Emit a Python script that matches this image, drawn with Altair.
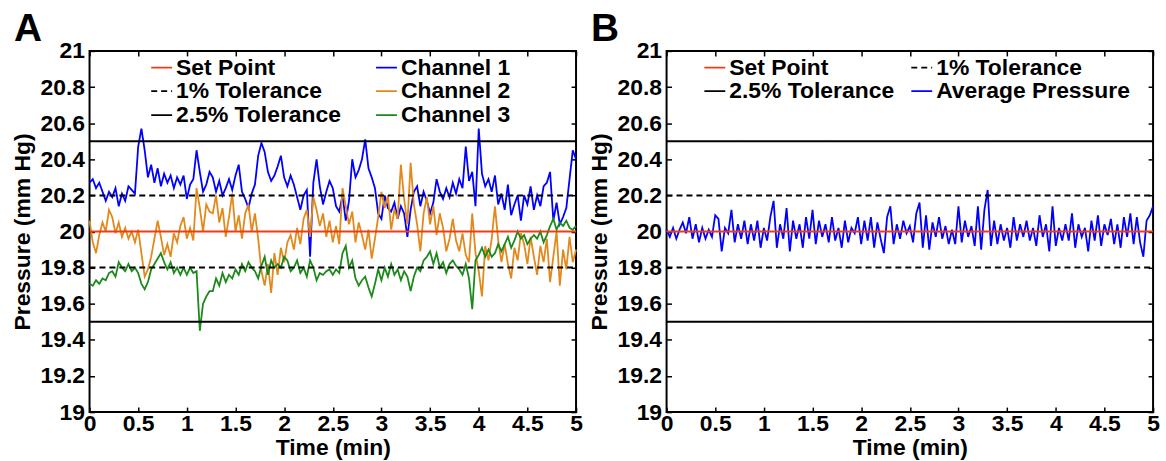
import altair as alt
import pandas as pd

FONT = "Liberation Sans"

# ---------------- data ----------------
N = 151
time = [i / 30 for i in range(N)]  # minutes, sampling grid

ch1 = [20.27, 20.29, 20.24, 20.27, 20.22, 20.17, 20.22, 20.19, 20.24, 20.14,
       20.21, 20.17, 20.25, 20.23, 20.21, 20.47, 20.57, 20.45, 20.30, 20.37,
       20.27, 20.35, 20.25, 20.32, 20.27, 20.31, 20.24, 20.30, 20.26, 20.31,
       20.18, 20.26, 20.29, 20.45, 20.33, 20.22, 20.26, 20.33,
       20.30, 20.22,
       20.28, 20.20, 20.24, 20.29, 20.23, 20.31, 20.37, 20.22, 20.18, 20.13,
       20.21, 20.26, 20.42, 20.49, 20.44, 20.33, 20.28, 20.31, 20.36, 20.42,
       20.30, 20.25, 20.31, 20.26, 20.19, 20.12, 20.20, 20.23, 19.86, 20.27,
       20.40, 20.25, 20.15, 20.22, 20.28,
       20.24, 20.14, 20.11, 20.20, 20.06,
       20.17, 20.40, 20.30, 20.34, 20.40, 20.51, 20.35, 20.30, 20.24, 20.10,
       20.07, 20.20, 20.13, 20.11, 20.16, 20.07, 20.14, 20.10, 19.97, 20.12,
       20.22, 20.25, 20.14, 20.22, 20.17, 20.10, 20.16, 20.29, 20.22, 20.18,
       20.24, 20.19, 20.27,
       20.21, 20.29, 20.24, 20.47, 20.28, 20.33, 20.14,
       20.57, 20.32, 20.25, 20.29, 20.22, 20.31, 20.15, 20.21, 20.12, 20.26,
       20.09, 20.15, 20.20, 20.06, 20.20, 20.15, 20.25, 20.12, 20.20, 20.14,
       20.25, 20.27, 20.33, 20.06, 20.16, 20.04, 20.08, 20.13, 20.29, 20.45,
       20.40]

ch2 = [20.06, 19.94, 19.88, 19.98, 20.05, 20.00, 20.12, 20.08, 19.99, 20.05,
       19.97, 20.02, 19.96, 20.00, 19.94, 20.01, 19.88, 19.75, 19.79, 19.86,
       19.96, 20.06, 19.97, 19.87, 19.93, 19.86, 19.99, 19.94, 20.03, 20.08,
       19.96, 20.02, 19.95, 20.24, 20.13, 20.00, 20.15, 20.11,
       20.10, 20.20,
       20.05, 20.13, 19.97, 20.08, 20.21, 20.00, 20.09, 19.96, 20.10, 20.15,
       20.00, 20.10, 19.96, 19.78, 19.70, 19.82, 19.66, 19.88, 19.76, 19.91,
       19.83, 19.94, 19.98, 19.90, 20.02, 19.93, 20.07, 20.12, 19.97, 20.19,
       20.12, 20.03, 20.10, 19.97, 20.06,
       19.94, 20.03, 19.93, 20.24, 20.14,
       20.04, 20.11, 19.94, 20.05, 19.98, 19.90, 20.01, 19.85, 19.96, 20.08,
       20.22, 20.13, 20.20, 20.01, 20.12, 20.07, 20.37, 20.18, 20.04, 20.38,
       20.15, 20.04, 19.89, 20.10, 20.19, 20.04, 20.14, 19.98, 20.10, 20.02,
       19.89, 19.96, 20.07,
       19.95, 19.89, 19.99, 19.87, 19.83, 20.10, 19.88,
       19.78, 19.64, 19.92, 19.84, 19.96, 20.14, 19.95, 19.83, 19.93, 19.82,
       19.74, 19.91, 19.84, 19.99, 19.93, 19.82, 19.97, 19.86, 19.76, 19.92,
       19.83, 19.96, 19.72, 19.86, 20.00, 19.70, 19.90, 19.79, 19.97, 19.83,
       19.90]

ch3 = [19.71, 19.70, 19.73, 19.71, 19.74, 19.73, 19.77, 19.78, 19.75, 19.83,
       19.80, 19.78, 19.82, 19.78, 19.80, 19.77, 19.71, 19.68, 19.72, 19.79,
       19.82, 19.85, 19.88, 19.83, 19.79, 19.83, 19.77, 19.80, 19.76, 19.80,
       19.76, 19.80, 19.77, 19.78, 19.45, 19.60, 19.64, 19.67,
       19.67, 19.74,
       19.70, 19.77, 19.72, 19.76, 19.74, 19.79, 19.76, 19.82, 19.78, 19.83,
       19.80, 19.78, 19.74, 19.81, 19.86, 19.76, 19.84, 19.80, 19.82, 19.80,
       19.86, 19.84, 19.78, 19.80, 19.84, 19.77, 19.80, 19.75, 19.84, 19.80,
       19.73, 19.77, 19.76, 19.78, 19.79,
       19.76, 19.79, 19.77, 19.88, 19.92,
       19.80, 19.84, 19.74, 19.70, 19.73, 19.75, 19.69, 19.64, 19.71, 19.79,
       19.73, 19.80, 19.75, 19.82, 19.76, 19.79, 19.73, 19.78, 19.75, 19.67,
       19.75, 19.80, 19.78, 19.84, 19.86, 19.89, 19.82, 19.88, 19.80, 19.83,
       19.77, 19.82, 19.84,
       19.81, 19.79, 19.76, 19.82, 19.74, 19.57, 19.84,
       19.87, 19.91, 19.86, 19.90, 19.86, 19.88, 19.93, 19.89, 19.93, 19.97,
       19.91, 19.95, 20.00, 19.96, 19.98, 19.93, 19.96, 19.98, 19.96, 20.00,
       19.94, 19.98, 20.03, 20.07, 20.01, 20.05, 20.03, 20.06, 20.02, 20.01,
       20.03]

avg = [20.01, 19.97, 20.02, 19.96, 20.01, 20.05, 19.99, 20.08, 19.96, 20.04,
       19.94, 20.02, 19.96, 20.01, 19.97, 20.09, 20.07, 19.89, 20.02, 19.99,
       20.12, 19.94, 20.04, 19.96, 20.06, 19.93, 20.04, 19.95, 20.06, 19.91,
       20.02, 19.95, 20.08, 20.17, 19.91, 20.04, 19.96, 20.13, 19.89, 20.06,
       19.96, 20.04, 19.91, 20.08, 19.96, 20.12, 19.93, 20.06, 19.97, 20.04,
       19.94, 20.08, 19.95, 20.02, 19.91, 20.06, 19.94, 20.02, 19.99, 20.08,
       19.93, 20.06, 19.95, 20.08, 19.91, 20.05, 19.96, 19.88, 20.08, 20.14,
       19.93, 20.04, 19.96, 20.06, 19.99, 20.03,
       19.94, 20.10, 20.16, 19.91,
       20.09, 19.90, 20.05, 19.97, 20.08, 19.96, 20.03, 19.93, 20.01, 19.93,
       20.14, 19.94, 20.06, 19.97, 20.03, 19.92, 20.14, 19.90, 20.12, 20.23,
       19.92, 20.06, 19.93, 20.04, 19.95, 20.02, 19.91, 20.08, 19.95, 20.04,
       19.97, 20.06, 19.95, 20.02, 19.92, 20.09, 19.97, 20.04, 19.89, 20.14,
       19.92, 20.02, 19.95, 20.04, 19.95, 20.10, 19.91, 20.04, 19.97, 20.02,
       19.89, 20.06, 19.95, 20.09, 19.92, 20.04, 19.98, 20.07, 19.93, 20.04,
       19.91, 20.08, 19.97, 20.10, 19.93, 20.08, 19.94, 19.86, 20.06, 20.09,
       20.14]

set_point = 20.0
tol_1 = [20.2, 19.8]
tol_25 = [20.5, 19.5]
t_range = [0, 5]
x_ticks = [0, 0.5, 1, 1.5, 2, 2.5, 3, 3.5, 4, 4.5, 5]
y_ticks = [19, 19.2, 19.4, 19.6, 19.8, 20, 20.2, 20.4, 20.6, 20.8, 21]

RED = "#EE3D12"
BLUE = "#0000FF"
ORANGE = "#E3891C"
GREEN = "#1B8A1B"
BLACK = "#000000"
SOLID = [1, 0]
DASH = [6, 4]


def series_df(series):
    rows = []
    for name, vals in series:
        for t, v in zip(time, vals):
            rows.append({"time": t, "value": v, "series": name, "part": name})
    return pd.DataFrame(rows)


def ref_df():
    rows = []
    for t in t_range:
        rows.append({"time": t, "value": set_point, "series": "Set Point", "part": "sp"})
    for k, v in enumerate(tol_1):
        for t in t_range:
            rows.append({"time": t, "value": v, "series": "1% Tolerance", "part": f"t1_{k}"})
    for k, v in enumerate(tol_25):
        for t in t_range:
            rows.append({"time": t, "value": v, "series": "2.5% Tolerance", "part": f"t25_{k}"})
    return pd.DataFrame(rows)


xscale = alt.Scale(domain=[0, 5], nice=False, zero=False)
yscale = alt.Scale(domain=[19, 21], nice=False, zero=False)

tick_common = dict(grid=False, domain=False, ticks=True, tickSize=5, offset=-5,
                   tickColor=BLACK, tickWidth=1.5)
label_common = dict(labelFont=FONT, labelFontSize=23, labelFontWeight="bold",
                    labelColor=BLACK, labelFlush=False, labelOverlap=False,
                    titleFont=FONT, titleFontSize=23, titleFontWeight="bold",
                    titleColor=BLACK)

x_bottom = alt.Axis(orient="bottom", values=x_ticks, format="~g", labelPadding=1,
                    title="Time (min)", titlePadding=1, **tick_common, **label_common)
y_left = alt.Axis(orient="left", values=y_ticks, format="~g", labelPadding=5,
                  title="Pressure (mm Hg)", titlePadding=6, **tick_common, **label_common)
x_top = alt.Axis(orient="top", values=x_ticks, labels=False, title=None, **tick_common)
y_right = alt.Axis(orient="right", values=y_ticks, labels=False, title=None, **tick_common)


def make_legend(x, col_pad):
    return alt.Legend(orient="none", legendX=x, legendY=5, columns=2,
                      columnPadding=col_pad, rowPadding=0, padding=0,
                      symbolType="stroke", symbolSize=441, symbolStrokeWidth=1.8,
                      labelFont=FONT, labelFontSize=23, labelFontWeight="bold",
                      labelColor=BLACK, labelOffset=3, labelLimit=400, title=None)


def panel(letter, series, domain, colors, dashes, legend):
    cscale = alt.Scale(domain=domain, range=colors)
    dscale = alt.Scale(domain=domain, range=dashes)
    data_layer = alt.Chart(series_df(series)).mark_line(strokeWidth=1.8).encode(
        x=alt.X("time:Q", scale=xscale, axis=x_bottom),
        y=alt.Y("value:Q", scale=yscale, axis=y_left),
        color=alt.Color("series:N", scale=cscale, legend=legend),
        strokeDash=alt.StrokeDash("series:N", scale=dscale, legend=legend),
        detail="part:N",
    )
    ref_layer = alt.Chart(ref_df()).mark_line(strokeWidth=2).encode(
        x=alt.X("time:Q", scale=xscale, axis=x_top),
        y=alt.Y("value:Q", scale=yscale, axis=y_right),
        color=alt.Color("series:N", scale=cscale, legend=legend),
        strokeDash=alt.StrokeDash("series:N", scale=dscale, legend=legend),
        detail="part:N",
    )
    letter_layer = alt.Chart(pd.DataFrame({"label": [letter]})).mark_text(
        align="left", baseline="alphabetic", font=FONT, fontSize=39,
        fontWeight="bold", color=BLACK,
    ).encode(x=alt.value(-76), y=alt.value(-10), text="label:N")
    return alt.layer(data_layer, ref_layer, letter_layer).resolve_axis(
        x="independent", y="independent"
    ).properties(width=489, height=363)


chart_a = panel(
    "A",
    [("Channel 1", ch1), ("Channel 2", ch2), ("Channel 3", ch3)],
    ["Set Point", "1% Tolerance", "2.5% Tolerance", "Channel 1", "Channel 2", "Channel 3"],
    [RED, BLACK, BLACK, BLUE, ORANGE, GREEN],
    [SOLID, DASH, SOLID, SOLID, SOLID, SOLID],
    make_legend(61, 31),
)

chart_b = panel(
    "B",
    [("Average Pressure", avg)],
    ["Set Point", "2.5% Tolerance", "1% Tolerance", "Average Pressure"],
    [RED, BLACK, BLACK, BLUE],
    [SOLID, SOLID, DASH, SOLID],
    make_legend(37, 13),
)

chart = alt.hconcat(chart_a, chart_b, spacing=91, bounds="flush").resolve_scale(
    x="independent", y="independent", color="independent", strokeDash="independent"
).configure_view(
    stroke=BLACK, strokeWidth=2
).properties(
    padding={"left": 10, "top": 8, "right": 5, "bottom": 2},
    background="white",
)

chart.save("out.html", embed_options={"renderer": "svg", "actions": False})
